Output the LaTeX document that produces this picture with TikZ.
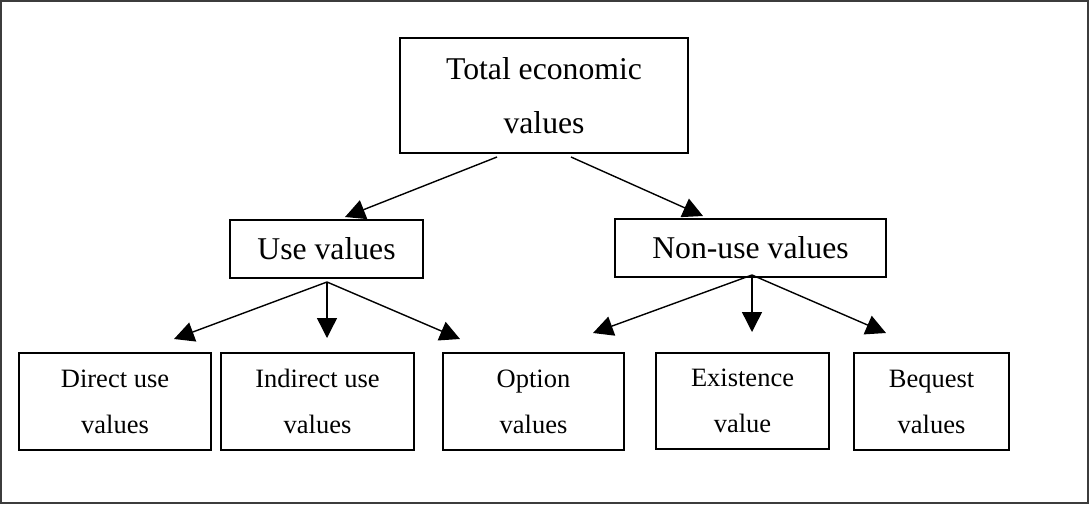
\documentclass[tikz,border=0pt]{standalone}
\usepackage{fontspec}
\setmainfont{Liberation Serif}
\usetikzlibrary{arrows.meta}
\begin{document}
\begin{tikzpicture}[x=1pt,y=-1pt,
  box/.style={draw=black, line width=1.5pt, align=center, inner sep=2pt},
  bigtext/.style={font=\fontsize{31.7}{54}\selectfont},
  smalltext/.style={font=\fontsize{26.5}{46}\selectfont},
  arr/.style={line width=1.4pt, -{Triangle[length=20pt,width=20pt]}}]
\useasboundingbox (0,0) rectangle (1091,504);
\draw[line width=1.5pt, draw={rgb,255:red,60;green,60;blue,60}] (1,1) rectangle (1088,503);
% boxes
\node[box, bigtext, minimum width=288, minimum height=115] (top) at (544,95.5) {Total economic\\values};
\node[box, bigtext, minimum width=193, minimum height=58] (use) at (326.5,249) {Use values};
\node[box, bigtext, minimum width=271, minimum height=58] (nonuse) at (750.5,248) {Non-use values};
\node[box, smalltext, minimum width=192, minimum height=97] (direct) at (115,401.5) {Direct use\\values};
\node[box, smalltext, minimum width=193, minimum height=97] (indirect) at (317.5,401.5) {Indirect use\\values};
\node[box, smalltext, minimum width=181, minimum height=97] (option) at (533.5,401.5) {Option\\values};
\node[box, smalltext, minimum width=173, minimum height=96] (existence) at (742.5,401) {Existence\\value};
\node[box, smalltext, minimum width=155, minimum height=97] (bequest) at (931.5,401.5) {Bequest\\values};
% connector ends
\coordinate (topL) at (497,157);
\coordinate (topR) at (571,157);
\coordinate (useIn) at (345,217);
\coordinate (nonuseIn) at (703,216);
\coordinate (useOut) at (327,282);
\coordinate (directIn) at (174,339);
\coordinate (indirectIn) at (327,338);
\coordinate (optionInL) at (460,339);
\coordinate (nonuseOut) at (752,275);
\coordinate (optionInR) at (593,333);
\coordinate (existenceIn) at (752,332);
\coordinate (bequestIn) at (886,333);
% connectors
\draw[arr] (topL) -- (useIn);
\draw[arr] (topR) -- (nonuseIn);
\draw[arr] (useOut) -- (directIn);
\draw[arr] (useOut) -- (indirectIn);
\draw[arr] (useOut) -- (optionInL);
\draw[arr] (nonuseOut) -- (optionInR);
\draw[arr] (nonuseOut) -- (existenceIn);
\draw[arr] (nonuseOut) -- (bequestIn);
\end{tikzpicture}
\end{document}
